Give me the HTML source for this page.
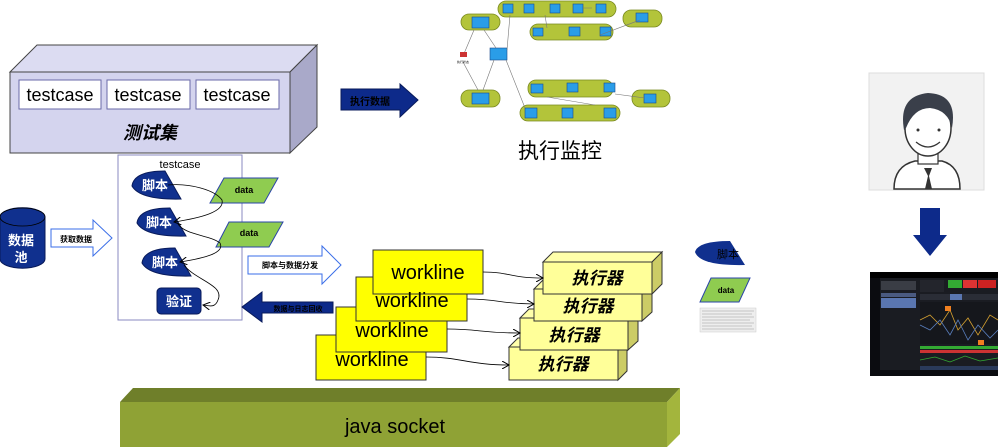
<!DOCTYPE html>
<html><head><meta charset="utf-8"><style>
html,body{margin:0;padding:0;background:#fff;}
svg{display:block;font-family:"Liberation Sans","Noto Sans CJK SC",sans-serif;}
</style></head><body>
<svg width="1000" height="447" viewBox="0 0 1000 447" xmlns="http://www.w3.org/2000/svg">
<defs>
<marker id="ah" markerWidth="8" markerHeight="8" refX="7" refY="4" orient="auto" markerUnits="userSpaceOnUse"><path d="M0,0 L7,4 L0,8" fill="none" stroke="#000" stroke-width="1"/></marker>
</defs>
<!-- testset box -->
<polygon points="10,72 37,45 317,45 290,72" fill="#dcdcf2" stroke="#444" stroke-width="1"/>
<polygon points="290,72 317,45 317,127 290,153" fill="#a9a9c9" stroke="#444" stroke-width="1"/>
<rect x="10" y="72" width="280" height="81" fill="#d4d4ee" stroke="#444" stroke-width="1"/>
<rect x="19" y="80" width="82" height="29" fill="#fff" stroke="#6a6aa8"/>
<rect x="107" y="80" width="83" height="29" fill="#fff" stroke="#6a6aa8"/>
<rect x="196" y="80" width="83" height="29" fill="#fff" stroke="#6a6aa8"/>
<text x="60" y="101" font-size="18" text-anchor="middle">testcase</text>
<text x="148" y="101" font-size="18" text-anchor="middle">testcase</text>
<text x="237" y="101" font-size="18" text-anchor="middle">testcase</text>
<text x="150" y="139" font-size="18" font-weight="bold" font-style="italic" text-anchor="middle">测试集</text>
<!-- 执行数据 arrow -->
<polygon points="341,89 400,89 400,84 418,100 400,117 400,110 341,110" fill="#0d2a8a" stroke="#081a5a"/>
<text x="370" y="105" font-size="10" fill="#000" text-anchor="middle" font-weight="bold">执行数据</text>
<!-- monitor -->
<g stroke="#7a8a20" stroke-width="0.8" fill="#b3c43a">
<rect x="498" y="1" width="118" height="16" rx="8"/>
<rect x="530" y="24" width="83" height="16" rx="8"/>
<rect x="623" y="10" width="39" height="17" rx="8"/>
<rect x="461" y="14" width="39" height="16" rx="8"/>
<rect x="461" y="90" width="39" height="17" rx="8"/>
<rect x="528" y="80" width="85" height="17" rx="8"/>
<rect x="632" y="90" width="38" height="17" rx="8"/>
<rect x="520" y="105" width="100" height="16" rx="8"/>
</g>
<g fill="#2a9de8" stroke="#1a4a8a" stroke-width="0.6">
<rect x="503" y="4" width="10" height="9"/><rect x="524" y="4" width="10" height="9"/><rect x="550" y="4" width="10" height="9"/><rect x="573" y="4" width="10" height="9"/><rect x="596" y="4" width="10" height="9"/>
<rect x="533" y="28" width="10" height="8"/><rect x="569" y="27" width="11" height="9"/><rect x="600" y="27" width="11" height="9"/>
<rect x="636" y="13" width="12" height="9"/>
<rect x="472" y="17" width="17" height="11"/><rect x="472" y="93" width="17" height="11"/>
<rect x="490" y="48" width="17" height="12"/>
<rect x="531" y="84" width="12" height="9"/><rect x="567" y="83" width="11" height="9"/><rect x="604" y="83" width="11" height="9"/>
<rect x="644" y="94" width="12" height="9"/>
<rect x="525" y="108" width="12" height="10"/><rect x="562" y="108" width="11" height="10"/><rect x="604" y="108" width="12" height="10"/>
</g>
<g stroke="#777" stroke-width="0.6" fill="none">
<path d="M463,56 L474,30 M463,62 L478,90 M484,30 L496,48 M483,90 L494,60 M507,50 L510,15 M506,60 L525,108 M545,15 L547,28 M583,8 L592,8 M600,35 L640,20 M615,94 L645,98 M547,97 L595,105"/>
</g>
<rect x="460" y="52" width="7" height="5" fill="#c33"/>
<text x="463" y="63" font-size="3" text-anchor="middle">执行状态</text>
<text x="560" y="158" font-size="21" text-anchor="middle">执行监控</text>
<!-- database -->
<path d="M0,217 A22,9 0 0 1 45,217 L45,259 A22,9 0 0 1 0,259 Z" fill="#10308e" stroke="#081a5a"/>
<ellipse cx="22.5" cy="217" rx="22.5" ry="9" fill="#10308e" stroke="#000" stroke-width="0.8"/>
<text x="21" y="245" font-size="13" fill="#fff" text-anchor="middle" font-weight="bold">数据</text>
<text x="21" y="262" font-size="13" fill="#fff" text-anchor="middle" font-weight="bold">池</text>
<!-- 获取数据 arrow -->
<polygon points="51,229 93,229 93,220 112,238 93,256 93,247 51,247" fill="#fff" stroke="#3a6ee8"/>
<text x="76" y="242" font-size="8" text-anchor="middle" font-weight="bold">获取数据</text>
<!-- testcase container -->
<rect x="118" y="155" width="124" height="165" fill="#fff" stroke="#8a8ac0"/>
<text x="180" y="168" font-size="11" text-anchor="middle">testcase</text>
<g fill="#10308e" stroke="#081a5a">
<path d="M165,171 L181,199 Q140,200 132,186 Q134,171 165,171 Z"/>
<path d="M170,208 L186,236 Q145,237 137,223 Q139,208 170,208 Z"/>
<path d="M175,248 L191,276 Q150,277 142,263 Q144,248 175,248 Z"/>
<rect x="157" y="288" width="44" height="26" rx="4"/>
</g>
<g fill="#fff" font-size="13" text-anchor="middle" font-weight="bold">
<text x="155" y="190">脚本</text><text x="159" y="227">脚本</text><text x="165" y="267">脚本</text><text x="179" y="306">验证</text>
</g>
<g fill="#8fcc50" stroke="#2a44a8">
<polygon points="224,178 278,178 264,203 210,203"/>
<polygon points="229,222 283,222 269,247 216,247"/>
</g>
<text x="244" y="193" font-size="9" font-weight="bold" text-anchor="middle">data</text>
<text x="249" y="236" font-size="9" font-weight="bold" text-anchor="middle">data</text>
<g fill="none" stroke="#000" stroke-width="0.8">
<path d="M168,185 C190,183 215,190 222,200 C225,212 200,218 174,222" marker-end="url(#ah)"/>
<path d="M178,224 C185,235 210,235 220,243 C225,253 205,258 180,262" marker-end="url(#ah)"/>
<path d="M184,265 C195,280 225,285 218,300 C215,308 210,306 203,305" marker-end="url(#ah)"/>
</g>
<!-- 脚本与数据分发 arrow -->
<polygon points="248,256 322,256 322,246 341,265 322,284 322,274 248,274" fill="#fff" stroke="#3a6ee8"/>
<text x="290" y="268" font-size="8" text-anchor="middle" font-weight="bold">脚本与数据分发</text>
<!-- 数据与日志回收 arrow -->
<polygon points="333,302 262,302 262,292 242,307 262,322 262,313 333,313" fill="#0d2a8a" stroke="#081a5a"/>
<text x="298" y="311" font-size="7" text-anchor="middle" font-weight="bold">数据与日志回收</text>
<!-- worklines -->
<g fill="#ffff00" stroke="#333" stroke-width="1">
<rect x="316" y="335" width="110" height="45"/>
<rect x="336" y="307" width="111" height="45"/>
<rect x="356" y="277" width="111" height="44"/>
<rect x="373" y="250" width="110" height="44"/>
</g>
<g font-size="20" text-anchor="middle">
<text x="372" y="366">workline</text>
<text x="392" y="337">workline</text>
<text x="412" y="307">workline</text>
<text x="428" y="279">workline</text>
</g>
<!-- executors -->
<g stroke="#333" stroke-width="1">
<polygon points="509,347 518,338 627,338 618,347" fill="#ffffaa"/><polygon points="618,347 627,338 627,371 618,380" fill="#cccc66"/><rect x="509" y="347" width="109" height="33" fill="#ffff99"/>
<polygon points="520,318 529,309 638,309 628,318" fill="#ffffaa"/><polygon points="628,318 638,309 638,341 628,350" fill="#cccc66"/><rect x="520" y="318" width="108" height="32" fill="#ffff99"/>
<polygon points="534,289 543,280 652,280 642,289" fill="#ffffaa"/><polygon points="642,289 652,280 652,312 642,321" fill="#cccc66"/><rect x="534" y="289" width="108" height="32" fill="#ffff99"/>
<polygon points="543,262 553,252 662,252 652,262" fill="#ffffaa"/><polygon points="652,262 662,252 662,284 652,294" fill="#cccc66"/><rect x="543" y="262" width="109" height="32" fill="#ffff99"/>
</g>
<g font-size="17" font-weight="bold" font-style="italic" text-anchor="middle">
<text x="563" y="370">执行器</text>
<text x="574" y="341">执行器</text>
<text x="588" y="312">执行器</text>
<text x="597" y="284">执行器</text>
</g>
<g fill="none" stroke="#000" stroke-width="0.8">
<path d="M483,272 C510,272 510,278 543,278" marker-end="url(#ah)"/>
<path d="M467,299 C500,299 500,304 534,304" marker-end="url(#ah)"/>
<path d="M447,329 C480,329 480,333 520,333" marker-end="url(#ah)"/>
<path d="M426,357 C460,357 470,365 509,365" marker-end="url(#ah)"/>
</g>
<!-- java socket -->
<polygon points="120,402 133,388 680,388 667,402" fill="#6f7f2a"/>
<polygon points="667,402 680,388 680,434 667,447" fill="#a3b53d"/>
<rect x="120" y="402" width="547" height="45" fill="#8fa235"/>
<text x="395" y="433" font-size="20" text-anchor="middle">java socket</text>
<!-- right small legend -->
<path d="M730,241 L745,265 Q700,266 695,252 Q698,241 730,241 Z" fill="#10308e"/>
<text x="728" y="258" font-size="11" text-anchor="middle">脚本</text>
<polygon points="711,278 750,278 739,302 700,302" fill="#8fcc50" stroke="#2a44a8"/>
<text x="726" y="293" font-size="8" font-weight="bold" text-anchor="middle">data</text>
<rect x="700" y="308" width="56" height="24" fill="#eee" stroke="#ccc" stroke-width="0.5"/>
<g stroke="#999" stroke-width="0.6"><path d="M702,311 H754 M702,314 H752 M702,317 H754 M702,320 H750 M702,323 H754 M702,326 H752 M702,329 H754"/></g>
<!-- person -->
<rect x="869" y="73" width="115" height="117" fill="#f2f2f2" stroke="#ddd"/>
<path d="M894,189 Q894,166 915,161 L942,161 Q960,166 960,189 Z" fill="#fff" stroke="#333" stroke-width="1.5"/>
<path d="M924,168 L928,176 L925,189 L932,189 L929,176 L932,168 Z" fill="#333"/>
<rect x="918" y="148" width="20" height="16" fill="#fff" stroke="#333" stroke-width="1.2"/>
<ellipse cx="928" cy="128" rx="23" ry="28" fill="#fff" stroke="#333" stroke-width="1.5"/>
<path d="M904,130 Q898,96 928,93 Q958,94 952,128 Q948,110 930,108 Q914,108 906,128 Z" fill="#3a3f4a"/>
<path d="M916,142 Q928,152 940,142" fill="none" stroke="#333" stroke-width="1.2"/>
<circle cx="918" cy="130" r="1.5" fill="#333"/><circle cx="939" cy="130" r="1.5" fill="#333"/>
<!-- down arrow -->
<polygon points="920,208 940,208 940,235 947,235 930,256 913,235 920,235" fill="#0d2a8a"/>
<!-- screenshot -->
<rect x="870" y="272" width="128" height="104" fill="#1a1c22"/>
<rect x="870" y="272" width="128" height="6" fill="#000"/>
<rect x="870" y="278" width="10" height="92" fill="#0b0c10"/>
<rect x="881" y="281" width="35" height="9" fill="#3a3d45"/>
<rect x="881" y="293" width="35" height="4" fill="#4a5a80"/>
<rect x="881" y="298" width="35" height="10" fill="#5a76b0"/>
<rect x="920" y="280" width="24" height="12" fill="#23252c"/>
<rect x="948" y="280" width="14" height="8" fill="#3a3"/><rect x="963" y="280" width="14" height="8" fill="#d33"/>
<rect x="978" y="280" width="18" height="8" fill="#c22"/>
<rect x="920" y="294" width="78" height="6" fill="#2a2d36"/>
<rect x="950" y="294" width="12" height="6" fill="#5a76b0"/>
<rect x="920" y="302" width="78" height="42" fill="#15171c"/>
<path d="M920,320 L930,315 L940,325 L950,310 L958,330 L968,318 L978,335 L990,315 L998,320" fill="none" stroke="#d4a030" stroke-width="0.8"/>
<path d="M920,325 L930,330 L940,320 L950,335 L958,320 L968,340 L978,325 L990,338 L998,330" fill="none" stroke="#5a80c0" stroke-width="0.8"/>
<rect x="945" y="306" width="6" height="5" fill="#f08020"/><rect x="978" y="340" width="6" height="5" fill="#f08020"/>
<rect x="920" y="346" width="78" height="3" fill="#3a3"/>
<rect x="920" y="350" width="78" height="3" fill="#c33"/>
<path d="M920,360 L935,357 L950,362 L965,356 L980,361 L998,358" fill="none" stroke="#3a3" stroke-width="0.8"/>
<rect x="920" y="366" width="78" height="4" fill="#2a3a5a"/>
<rect x="870" y="370" width="128" height="6" fill="#0b0c10"/>
</svg>
</body></html>
